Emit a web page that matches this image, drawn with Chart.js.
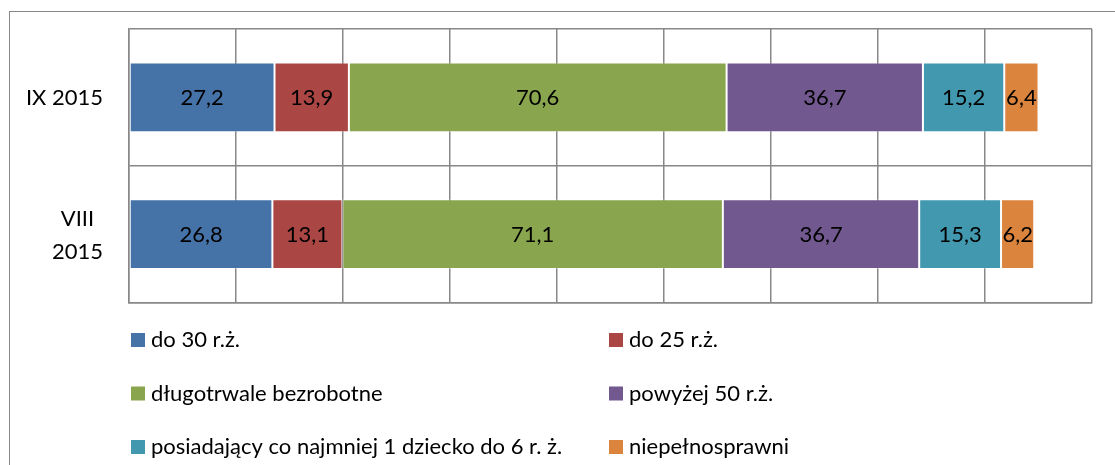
<!DOCTYPE html>
<html>
<head>
<meta charset="utf-8">
<script src="https://cdn.jsdelivr.net/npm/chart.js@4.4.1/dist/chart.umd.min.js"></script>
<style>
  body { margin: 0; background: #fff; }
  #wrap { position: relative; width: 1115px; height: 465px; overflow: hidden; }
  #frame { position: absolute; left: 9px; top: 11px; width: 1200px; height: 600px; border: 1.5px solid #888; box-sizing: border-box; }
  canvas { position: absolute; left: 0; top: 0; }
</style>
</head>
<body>
<div id="wrap">
  <div id="frame"></div>
  <canvas id="chartdiv" width="1115" height="465"></canvas>
</div>
<script>
const categories = [['IX 2015'], ['VIII', '2015']]
const seriesNames = ['do 30 r.ż.', 'do 25 r.ż.', 'długotrwale bezrobotne', 'powyżej 50 r.ż.',
                     'posiadający co najmniej 1 dziecko do 6 r. ż.', 'niepełnosprawni']
const do30 = [27.2, 26.8]
const do25 = [13.9, 13.1]
const dlugotrwale = [70.6, 71.1]
const powyzej50 = [36.7, 36.7]
const zDzieckiem = [15.2, 15.3]
const niepelnosprawni = [6.4, 6.2]
const colors = ['#4572A7', '#AA4643', '#89A54E', '#71588F', '#4198AF', '#DB843D']

const FONT = 'Lato, "DejaVu Sans", sans-serif'

const datasets = [do30, do25, dlugotrwale, powyzej50, zDzieckiem, niepelnosprawni].map(function (vals, i) {
    return {
        label: seriesNames[i],
        data: vals,
        backgroundColor: colors[i],
        borderColor: 'rgba(255,255,255,0.3)',
        borderWidth: 1,
        borderSkipped: false,
        barPercentage: 0.51,
        categoryPercentage: 1.0
    }
})

// values in the middle of each segment
const barLabels = {
    id: 'barLabels',
    afterDatasetsDraw(chart) {
        const ctx = chart.ctx
        ctx.save()
        ctx.font = '22px ' + FONT
        ctx.fillStyle = '#000'
        ctx.textAlign = 'center'
        ctx.textBaseline = 'middle'
        chart.data.datasets.forEach(function (ds, i) {
            chart.getDatasetMeta(i).data.forEach(function (el, j) {
                const txt = ds.data[j].toFixed(1).replace('.', ',')
                ctx.fillText(txt, (el.x + el.base) / 2, el.y + 1)
            })
        })
        ctx.restore()
    }
}

// category labels: block right aligned, lines centred inside it
const catLabels = {
    id: 'catLabels',
    afterDraw(chart) {
        const ctx = chart.ctx
        const yScale = chart.scales.y
        ctx.save()
        ctx.font = '22px ' + FONT
        ctx.fillStyle = '#000'
        ctx.textAlign = 'center'
        ctx.textBaseline = 'middle'
        chart.data.labels.forEach(function (lines, j) {
            const cy = yScale.getPixelForValue(j)
            const w = Math.max.apply(null, lines.map(function (l) { return ctx.measureText(l).width }))
            const cx = 103 - w / 2
            lines.forEach(function (l, k) {
                ctx.fillText(l, cx, cy + 1 + (k - (lines.length - 1) / 2) * 33)
            })
        })
        ctx.restore()
    }
}

// legend in two columns under the plot
const gridLegend = {
    id: 'gridLegend',
    afterDraw(chart) {
        const ctx = chart.ctx
        ctx.save()
        ctx.font = '22px ' + FONT
        ctx.textAlign = 'left'
        ctx.textBaseline = 'alphabetic'
        chart.data.datasets.forEach(function (ds, i) {
            const col = i % 2
            const row = Math.floor(i / 2)
            const bx = [131, 609][col]
            const by = 333 + row * 53.5
            ctx.fillStyle = ds.backgroundColor
            ctx.fillRect(bx, by, 14, 14)
            ctx.fillStyle = '#000'
            ctx.fillText(ds.label, bx + 20, by + 14)
        })
        ctx.restore()
    }
}

const options = {
    indexAxis: 'y',
    responsive: false,
    animation: { duration: 0 },
    layout: { padding: { left: 0, top: 29, right: 23, bottom: 162.5 } },
    plugins: { legend: { display: false }, tooltip: { enabled: false } },
    scales: {
        x: {
            stacked: true,
            min: 0,
            max: 180,
            ticks: { display: false, stepSize: 20 },
            grid: { color: '#888', lineWidth: 1.5, drawTicks: false },
            border: { color: '#888', width: 1.5 },
            afterFit: function (s) { s.height = 0 }
        },
        y: {
            stacked: true,
            ticks: { display: false },
            grid: { color: '#888', lineWidth: 1.5, drawTicks: false, offset: true },
            border: { color: '#888', width: 1.5 },
            afterFit: function (s) { s.width = 129 }
        }
    }
}

document.fonts.load('22px Lato').then(function () {
    new Chart(document.getElementById('chartdiv').getContext('2d'), {
        type: 'bar',
        data: { labels: categories, datasets: datasets },
        options: options,
        plugins: [barLabels, catLabels, gridLegend]
    })
})
</script>
</body>
</html>
